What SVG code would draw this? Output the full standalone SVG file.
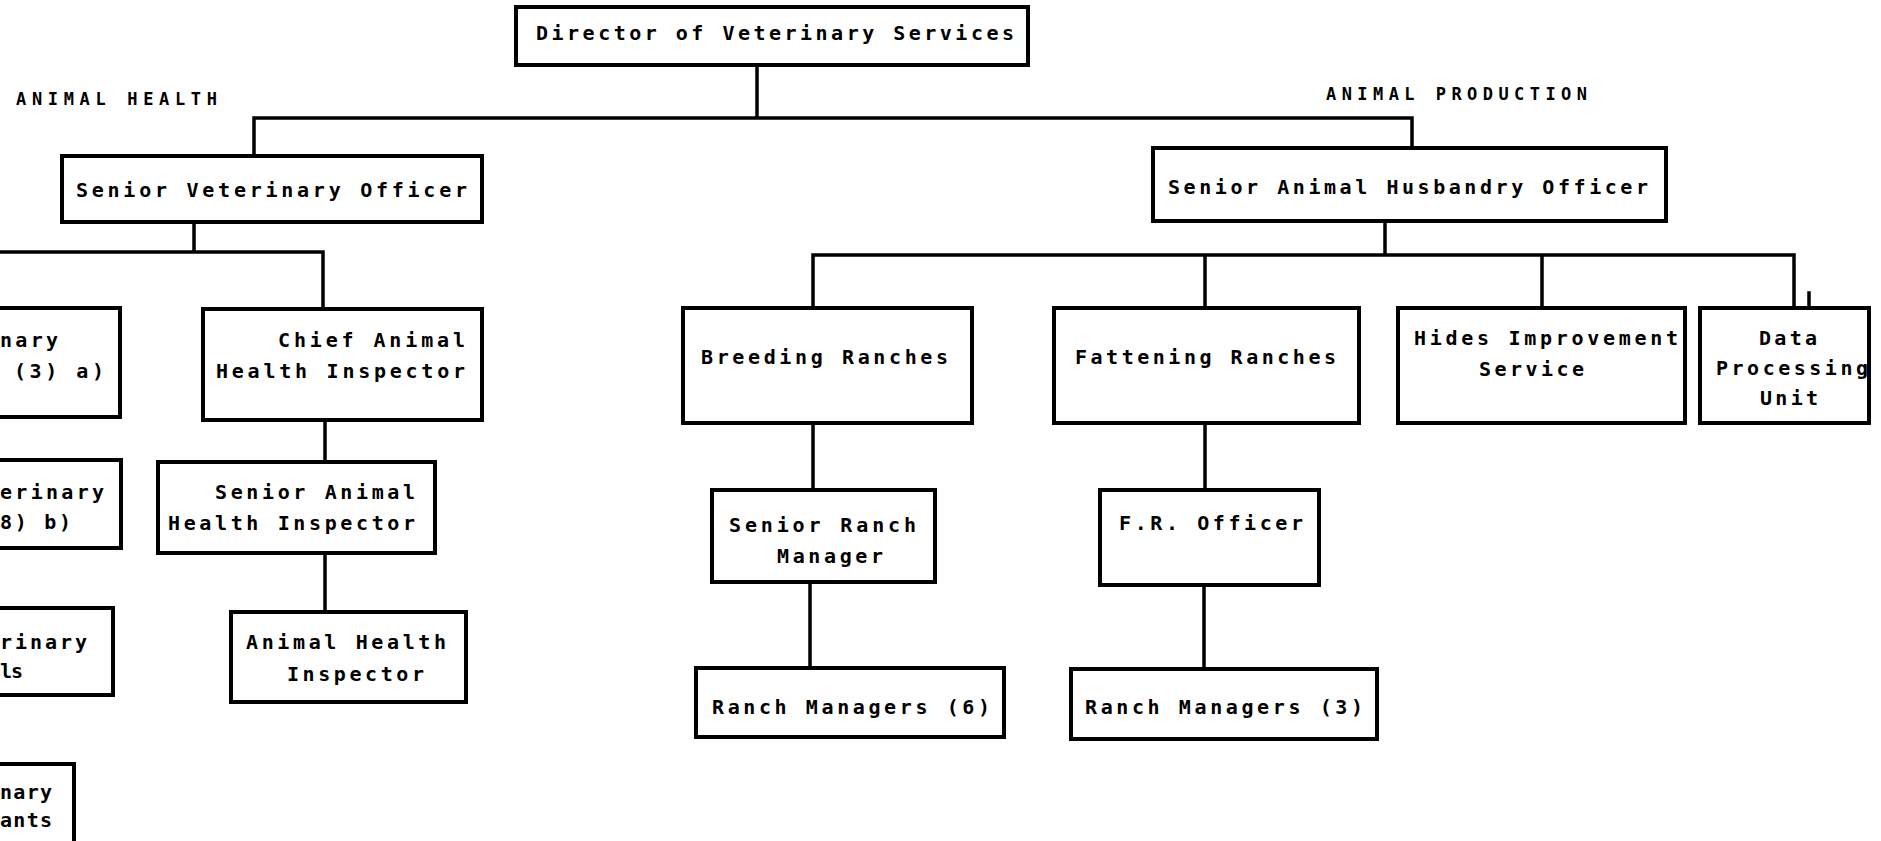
<svg xmlns="http://www.w3.org/2000/svg" width="1881" height="841" viewBox="0 0 1881 841">
<style>
.box{fill:#fff;stroke:#000;stroke-width:4}
.ln{fill:none;stroke:#000;stroke-width:3.5;stroke-linecap:square}
text{font-family:"DejaVu Sans Mono","Liberation Mono",monospace;font-weight:bold;font-size:20px;fill:#000}
.hd{font-size:17px}
</style>
<rect width="1881" height="841" fill="#fff"/>
<g id="connectors">
<path class="ln" d="M757 65V118M254 118H1412M254 118V156M1412 118V148"/>
<path class="ln" d="M194 222V252M0 252H323M323 252V309M325 420V462M325 553V612"/>
<path class="ln" d="M1385 222V255M813 255H1794M813 255V308M1205 255V308M1542 255V308M1794 255V308M1809 293V308"/>
<path class="ln" d="M813 423V490M810 582V668M1205 423V490M1204 585V669"/>
</g>
<g id="labels">
<text class="hd" x="16" y="105" textLength="201" lengthAdjust="spacing">ANIMAL HEALTH</text>
<text class="hd" x="1326" y="100" textLength="261" lengthAdjust="spacing">ANIMAL PRODUCTION</text>
</g>
<g id="director">
<rect class="box" x="516" y="7" width="512" height="58"/>
<text x="536" y="40" textLength="478" lengthAdjust="spacing">Director of Veterinary Services</text>
</g>
<g id="svo">
<rect class="box" x="62" y="156" width="420" height="66"/>
<text x="76" y="197" textLength="391" lengthAdjust="spacing">Senior Veterinary Officer</text>
</g>
<g id="vo-a">
<rect class="box" x="-10" y="308" width="130" height="109"/>
<text x="0" y="347" textLength="58" lengthAdjust="spacing">nary</text>
<text x="14" y="378" textLength="90" lengthAdjust="spacing">(3) a)</text>
</g>
<g id="vo-b">
<rect class="box" x="-10" y="460" width="131" height="88"/>
<text x="0" y="499" textLength="104" lengthAdjust="spacing">erinary</text>
<text x="0" y="529" textLength="71" lengthAdjust="spacing">8) b)</text>
</g>
<g id="vo-c">
<rect class="box" x="-10" y="608" width="123" height="87"/>
<text x="0" y="649" textLength="87" lengthAdjust="spacing">rinary</text>
<text x="0" y="678" textLength="23" lengthAdjust="spacing">ls</text>
</g>
<g id="vo-d">
<rect class="box" x="-10" y="764" width="84" height="90"/>
<text x="0" y="799" textLength="52" lengthAdjust="spacing">nary</text>
<text x="0" y="827" textLength="52" lengthAdjust="spacing">ants</text>
</g>
<g id="chief-ahi">
<rect class="box" x="203" y="309" width="279" height="111"/>
<text x="278" y="347" textLength="187" lengthAdjust="spacing">Chief Animal</text>
<text x="216" y="378" textLength="249" lengthAdjust="spacing">Health Inspector</text>
</g>
<g id="senior-ahi">
<rect class="box" x="158" y="462" width="277" height="91"/>
<text x="215" y="499" textLength="200" lengthAdjust="spacing">Senior Animal</text>
<text x="168" y="530" textLength="247" lengthAdjust="spacing">Health Inspector</text>
</g>
<g id="ahi">
<rect class="box" x="231" y="612" width="235" height="90"/>
<text x="246" y="649" textLength="200" lengthAdjust="spacing">Animal Health</text>
<text x="287" y="681" textLength="137" lengthAdjust="spacing">Inspector</text>
</g>
<g id="saho">
<rect class="box" x="1153" y="148" width="513" height="73"/>
<text x="1168" y="194" textLength="480" lengthAdjust="spacing">Senior Animal Husbandry Officer</text>
</g>
<g id="breeding">
<rect class="box" x="683" y="308" width="289" height="115"/>
<text x="701" y="364" textLength="247" lengthAdjust="spacing">Breeding Ranches</text>
</g>
<g id="fattening">
<rect class="box" x="1054" y="308" width="305" height="115"/>
<text x="1075" y="364" textLength="261" lengthAdjust="spacing">Fattening Ranches</text>
</g>
<g id="hides">
<rect class="box" x="1398" y="308" width="287" height="115"/>
<text x="1414" y="345" textLength="264" lengthAdjust="spacing">Hides Improvement</text>
<text x="1479" y="376" textLength="105" lengthAdjust="spacing">Service</text>
</g>
<g id="data">
<rect class="box" x="1700" y="308" width="169" height="115"/>
<text x="1759" y="345" textLength="58" lengthAdjust="spacing">Data</text>
<text x="1716" y="375" textLength="152" lengthAdjust="spacing">Processing</text>
<text x="1760" y="405" textLength="58" lengthAdjust="spacing">Unit</text>
</g>
<g id="srm">
<rect class="box" x="712" y="490" width="223" height="92"/>
<text x="729" y="532" textLength="187" lengthAdjust="spacing">Senior Ranch</text>
<text x="777" y="563" textLength="106" lengthAdjust="spacing">Manager</text>
</g>
<g id="rm6">
<rect class="box" x="696" y="668" width="308" height="69"/>
<text x="712" y="714" textLength="278" lengthAdjust="spacing">Ranch Managers (6)</text>
</g>
<g id="fro">
<rect class="box" x="1100" y="490" width="219" height="95"/>
<text x="1119" y="530" textLength="184" lengthAdjust="spacing">F.R. Officer</text>
</g>
<g id="rm3">
<rect class="box" x="1071" y="669" width="306" height="70"/>
<text x="1085" y="714" textLength="278" lengthAdjust="spacing">Ranch Managers (3)</text>
</g>
</svg>
